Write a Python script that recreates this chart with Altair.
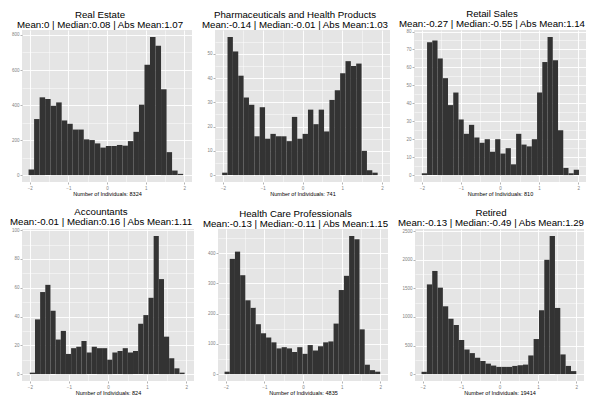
import altair as alt
import pandas as pd
import numpy as np

names = ["Real Estate", "Pharmaceuticals and Health Products", "Retail Sales",
         "Accountants", "Health Care Professionals", "Retired"]
stats = ["Mean:0 | Median:0.08 | Abs Mean:1.07",
         "Mean:-0.14 | Median:-0.01 | Abs Mean:1.03",
         "Mean:-0.27 | Median:-0.55 | Abs Mean:1.14",
         "Mean:-0.01 | Median:0.16 | Abs Mean:1.11",
         "Mean:-0.13 | Median:-0.11 | Abs Mean:1.15",
         "Mean:-0.13 | Median:-0.49 | Abs Mean:1.29"]
n_individuals = [8324, 741, 810, 824, 4835, 19414]

real_estate = [32, 320, 444, 435, 396, 415, 312, 293, 260, 260, 204, 200, 181, 157,
               166, 166, 172, 168, 194, 247, 402, 630, 789, 738, 490, 131, 26, 7]
pharma = [1, 57, 51, 41, 32, 29, 16, 28, 15, 17, 16, 16, 14, 24, 15, 17, 27, 21, 27,
          18, 31, 35, 42, 47, 45, 46, 10, 2, 1]
retail = [1, 74, 75, 65, 54, 39, 46, 31, 23, 28, 21, 18, 20, 13, 20, 12, 15, 6, 23,
          17, 16, 20, 46, 63, 77, 64, 25, 4, 1, 3]
accountants = [1, 38, 57, 62, 44, 24, 30, 14, 18, 19, 23, 15, 19, 18, 18, 10, 15, 16,
               18, 15, 16, 35, 41, 53, 96, 66, 26, 11, 4, 1]
health = [8, 381, 405, 327, 244, 219, 165, 135, 121, 105, 85, 89, 85, 73, 89, 67, 96,
          78, 92, 105, 108, 167, 278, 325, 457, 446, 148, 31, 13, 8]
retired = [40, 1569, 1804, 1512, 1186, 968, 859, 596, 430, 367, 286, 229, 183, 149,
           126, 126, 126, 143, 155, 166, 326, 613, 1117, 1999, 2417, 1157, 344, 143, 52]

all_counts = [real_estate, pharma, retail, accountants, health, retired]
# data range (first bin left edge, last bin right edge) per panel
bin_lo = [-2.03, -2.02, -2.0, -2.0, -2.03, -2.03]
bin_hi = [1.97, 1.89, 2.02, 1.96, 2.0, 2.0]
y_major = [200, 10, 10, 20, 100, 500]

# layout per panel: y-axis extent and plot width
extents = [14, 15, 16, 14, 15, 17]
widths = [170, 175, 172, 172, 170, 169]

FONT = "Liberation Sans"
PH = 152


def panel(i):
    counts = all_counts[i]
    k = len(counts)
    bw = (bin_hi[i] - bin_lo[i]) / k
    df = pd.DataFrame({
        "x": [bin_lo[i] + j * bw for j in range(k)],
        "x2": [bin_lo[i] + (j + 1) * bw for j in range(k)],
        "count": counts,
    })
    ymax = max(counts)
    step = y_major[i]
    yvals = [float(v) for v in np.arange(0, 1.05 * ymax, step / 2)]
    xvals = [-2, -1.5, -1, -0.5, 0, 0.5, 1, 1.5, 2]
    return alt.Chart(
        df,
        title=alt.TitleParams([names[i], stats[i]], anchor="middle", frame="bounds",
                              font=FONT, fontSize=9.7, fontWeight="normal",
                              color="black", lineHeight=10, offset=0),
    ).mark_bar(color="#333333", stroke=None).encode(
        x=alt.X("x:Q",
                scale=alt.Scale(domain=[-2.2, 2.2], nice=False, zero=False),
                axis=alt.Axis(values=xvals,
                              labelExpr="datum.value % 1 == 0 ? format(datum.value, 'd') : ''",
                              gridWidth={"condition": {"test": "datum.value % 1 == 0", "value": 0.9}, "value": 0.45},
                              tickOpacity={"condition": {"test": "datum.value % 1 == 0", "value": 1}, "value": 0},
                              titlePadding=2),
                title=f"Number of Individuals: {n_individuals[i]}"),
        x2="x2:Q",
        y=alt.Y("count:Q",
                scale=alt.Scale(domain=[-0.05 * ymax, 1.05 * ymax], nice=False, zero=False),
                axis=alt.Axis(values=yvals,
                              labelExpr=f"datum.value % {step} == 0 ? format(datum.value, 'd') : ''",
                              gridWidth={"condition": {"test": f"datum.value % {step} == 0", "value": 0.9}, "value": 0.45},
                              tickOpacity={"condition": {"test": f"datum.value % {step} == 0", "value": 1}, "value": 0},
                              minExtent=extents[i], maxExtent=extents[i]),
                title=None),
        y2=alt.datum(0),
    ).properties(width=widths[i], height=PH)


row1 = alt.hconcat(panel(0), panel(1), panel(2), spacing=8)
row2 = alt.hconcat(panel(3), panel(4), panel(5), spacing=8)
chart = alt.vconcat(row1, row2, spacing=10).properties(padding=0).configure_view(
    fill="#E5E5E5", stroke=None
).configure_axis(
    labelFont=FONT, labelFontSize=4.5, labelColor="#7f7f7f", labelPadding=1,
    tickColor="#7f7f7f", tickSize=2, tickWidth=0.6, domain=False,
    gridColor="white", labelOverlap=False,
    titleFont=FONT, titleFontSize=5.5, titleColor="black", titleFontWeight="normal",
)

chart.save("out.html", embed_options={"renderer": "svg", "actions": False})
